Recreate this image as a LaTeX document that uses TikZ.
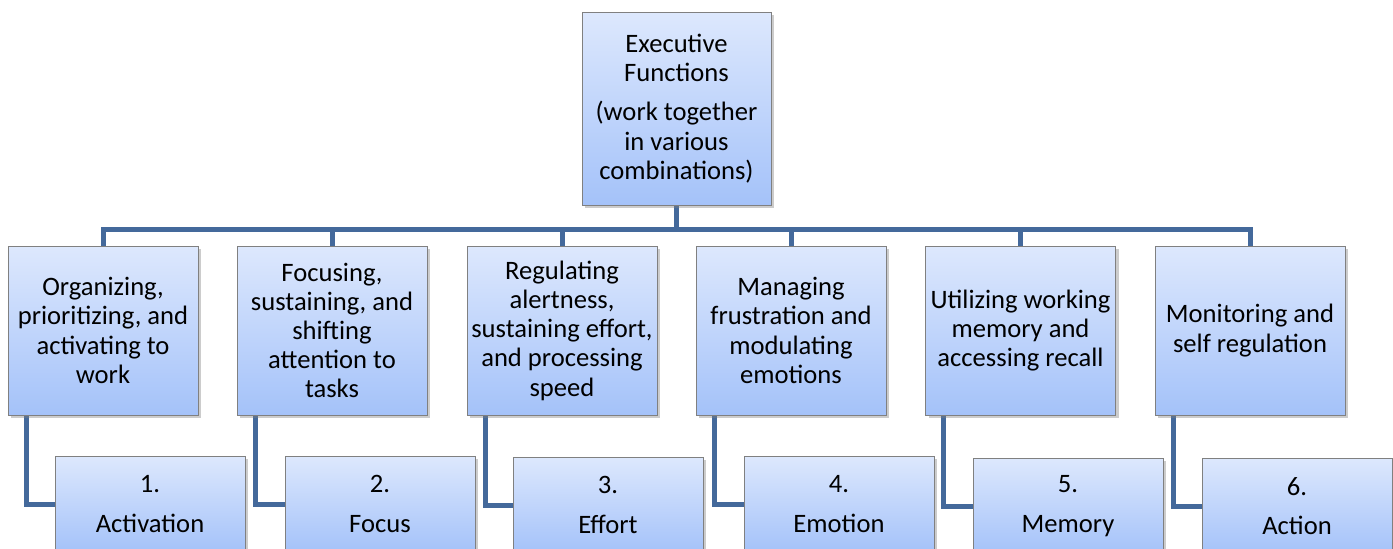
\documentclass[tikz,border=0pt]{standalone}
\usepackage{fontspec}
\setmainfont{Carlito}
\usetikzlibrary{shadows}
\usetikzlibrary{backgrounds}
\definecolor{cajaarriba}{HTML}{DDE8FD}
\definecolor{cajaabajo}{HTML}{A4C2F9}
\definecolor{azulenlace}{HTML}{44699B}
\tikzstyle{caja}=[rectangle, draw=black!50, thin, top color=cajaarriba, bottom color=cajaabajo, align=center, inner sep=1pt, font=\fontsize{13.3}{14.6}\selectfont, drop shadow={shadow xshift=1.5pt, shadow yshift=-1.5pt, opacity=0.4}]
\tikzstyle{funcion}=[caja, minimum width=95pt, minimum height=84.5pt]
\tikzstyle{hijo}=[caja, minimum width=95pt, minimum height=48pt]
\tikzstyle{enlace}=[draw=azulenlace, line width=2.5pt]

\begin{document}
\begin{tikzpicture}[x=0.5pt,y=-0.5pt]
            \useasboundingbox (0,0) rectangle (1393,548);
            % Raíz
            \node[caja, minimum width=94.5pt, minimum height=96.5pt] (ef) at (676.5,108.5) {Executive\\Functions\\[5pt](work together\\in various\\combinations)};
            % Funciones
            \node[funcion] (f1) at (103,330.5) {Organizing,\\prioritizing, and\\activating to\\work};
            \node[funcion] (f2) at (332,330.5) {Focusing,\\sustaining, and\\shifting\\attention to\\tasks};
            \node[funcion] (f3) at (562,330.5) {Regulating\\alertness,\\sustaining effort,\\and processing\\speed};
            \node[funcion] (f4) at (791,330.5) {Managing\\frustration and\\modulating\\emotions};
            \node[funcion] (f5) at (1020.5,330.5) {Utilizing working\\memory and\\accessing recall};
            \node[funcion] (f6) at (1250,330.5) {Monitoring and\\self regulation};
            % Etiquetas
            \node[hijo] (h1) at (150,504) {1.\\[5pt]Activation};
            \node[hijo] (h2) at (380,504) {2.\\[5pt]Focus};
            \node[hijo] (h3) at (608,505) {3.\\[5pt]Effort};
            \node[hijo] (h4) at (839,504) {4.\\[5pt]Emotion};
            \node[hijo] (h5) at (1068,506) {5.\\[5pt]Memory};
            \node[hijo] (h6) at (1297,506) {6.\\[5pt]Action};
            % Conexiones
            \coordinate (bus) at (676.5,229);
            \begin{scope}[on background layer]
            \draw[enlace] (ef.south) -- (bus) -| (f1.north);
            \draw[enlace] (bus) -| (f2.north);
            \draw[enlace] (bus) -| (f3.north);
            \draw[enlace] (bus) -| (f4.north);
            \draw[enlace] (bus) -| (f5.north);
            \draw[enlace] (bus) -| (f6.north);
            \draw[enlace] ([xshift=9.25pt]f1.south west) |- (h1.west);
            \draw[enlace] ([xshift=9.25pt]f2.south west) |- (h2.west);
            \draw[enlace] ([xshift=9.25pt]f3.south west) |- (h3.west);
            \draw[enlace] ([xshift=9.25pt]f4.south west) |- (h4.west);
            \draw[enlace] ([xshift=9.25pt]f5.south west) |- (h5.west);
            \draw[enlace] ([xshift=9.25pt]f6.south west) |- (h6.west);
            \end{scope}
        \end{tikzpicture}
\end{document}
